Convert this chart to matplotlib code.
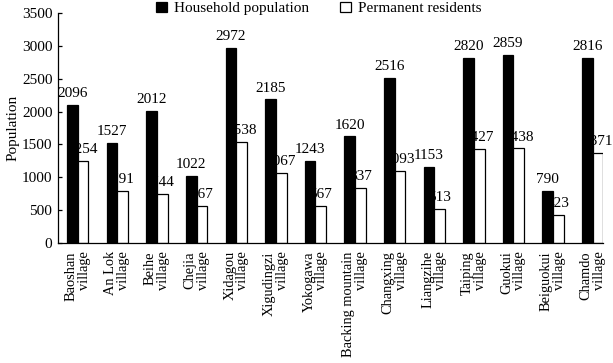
import numpy as np
import matplotlib
matplotlib.use("Agg")
import matplotlib.pyplot as plt

# ---------------- DATA ----------------
villages = ["Baoshan\nvillage", "An Lok\nvillage", "Beihe\nvillage", "Chejia\nvillage",
            "Xidagou\nvillage", "Xigudingzi\nvillage", "Yokogawa\nvillage",
            "Backing mountain\nvillage", "Changxing\nvillage", "Liangzihe\nvillage",
            "Taiping\nvillage", "Guokui\nvillage", "Beiguokui\nvillage", "Chamdo\nvillage"]
household = [2096, 1527, 2012, 1022, 2972, 2185, 1243, 1620, 2516, 1153, 2820, 2859, 790, 2816]
permanent = [1254, 791, 744, 567, 1538, 1067, 567, 837, 1093, 513, 1427, 1438, 423, 1371]
yticks = [0, 500, 1000, 1500, 2000, 2500, 3000, 3500]

# ---------------- STYLE ----------------
plt.rcParams["font.family"] = ["Liberation Serif", "DejaVu Serif"]
plt.rcParams["font.size"] = 11

fig = plt.figure(figsize=(6.13, 3.63), dpi=100)
ax = fig.add_axes([0.0946, 0.331, 0.889, 0.633])

x = np.arange(len(villages))
w = 0.27

b1 = ax.bar(x - w / 2, household, w, color="black", edgecolor="black",
            linewidth=0.9, zorder=2, label="Household population")
b2 = ax.bar(x + w / 2, permanent, w, color="white", edgecolor="black",
            linewidth=0.9, zorder=2, label="Permanent residents")

# labels sit under the bars, so the black bars hide parts of them
for bars in (b1, b2):
    for t in ax.bar_label(bars, padding=3.5):
        t.set_zorder(1)

ax.set_xlim(-0.5, 13.26)
ax.set_ylim(0, 3500)
ax.set_yticks(yticks)
ax.set_xticks(x)
ax.set_xticklabels(villages, rotation=90, ha="center", va="top",
                   multialignment="right", linespacing=1.0, fontsize=10.4)
ax.tick_params(axis="x", length=0, pad=6)
ax.tick_params(axis="y", direction="in", length=3, width=0.9, pad=4)
ax.set_ylabel("Population", labelpad=2)

for s in ("top", "right"):
    ax.spines[s].set_visible(False)
for s in ("left", "bottom"):
    ax.spines[s].set_linewidth(0.9)

fig.legend(handles=[b1, b2], loc="center", bbox_to_anchor=(0.52, 0.977),
           ncol=2, frameon=False, handlelength=0.7, handleheight=0.7,
           handletextpad=0.5, columnspacing=2.0, borderpad=0)

fig.savefig("out.png", dpi=100)
